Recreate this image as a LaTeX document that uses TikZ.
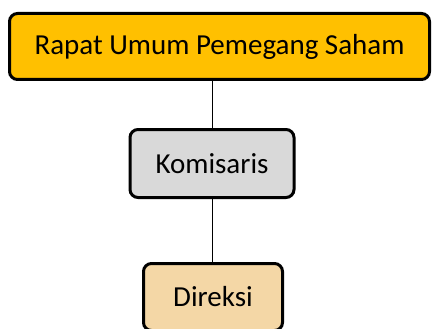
\documentclass[tikz,border=0pt]{standalone}
\usepackage{fontspec}
\setmainfont{Carlito}
\definecolor{rupsgold}{HTML}{FFC000}
\definecolor{komgrey}{HTML}{D9D9D9}
\definecolor{dirtan}{HTML}{F4D7A6}
\tikzset{
  orgbox/.style={draw=black, line width=3pt, rounded corners=8pt, inner sep=0pt,
    font=\fontsize{29}{34}\selectfont},
  link/.style={draw=black, line width=0.9pt}
}
\begin{document}
\begin{tikzpicture}[x=1pt,y=-1pt]
  \useasboundingbox (0,0) rectangle (434,329);
  % boxes
  \node[orgbox, fill=rupsgold, minimum width=420pt, minimum height=66pt] (rups) at (219.5,46.5) {Rapat Umum Pemegang Saham};
  \node[orgbox, fill=komgrey, minimum width=164pt, minimum height=68pt] (kom) at (212,163.5) {Komisaris};
  \node[orgbox, fill=dirtan, minimum width=139pt, minimum height=67pt] (dir) at (213,297) {Direksi};
  % connectors
  \draw[link] (kom.north) -- (kom.north |- rups.south);
  \draw[link] (kom.south) -- (kom.south |- dir.north);
\end{tikzpicture}
\end{document}
